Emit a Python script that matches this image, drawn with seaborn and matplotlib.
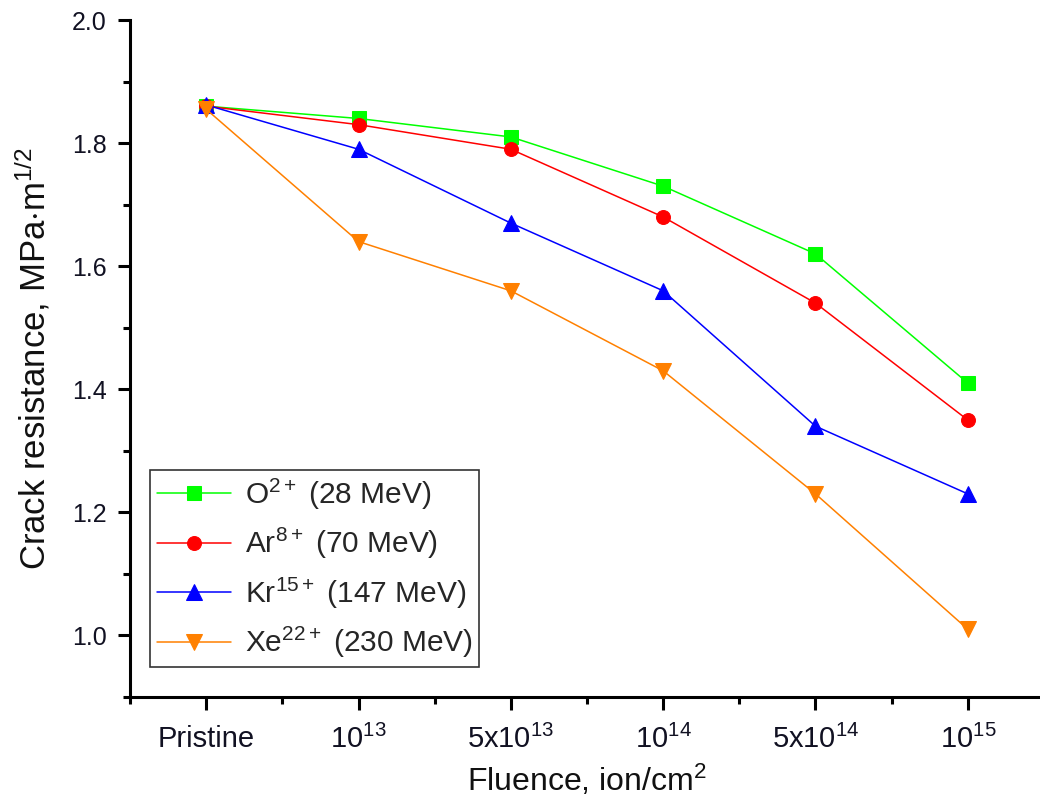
import numpy as np
import pandas as pd
import matplotlib
matplotlib.use("Agg")
import matplotlib.pyplot as plt
import seaborn as sns
from matplotlib.ticker import FixedLocator, FormatStrFormatter

categories = ["Pristine", r"$10^{13}$", r"5x$10^{13}$", r"$10^{14}$", r"5x$10^{14}$", r"$10^{15}$"]
o_vals = [1.86, 1.84, 1.81, 1.73, 1.62, 1.41]
ar_vals = [1.86, 1.83, 1.79, 1.68, 1.54, 1.35]
kr_vals = [1.862, 1.79, 1.67, 1.56, 1.34, 1.23]
xe_vals = [1.855, 1.64, 1.56, 1.43, 1.23, 1.01]
series_labels = [r"O$^{2+}$ (28 MeV)", r"Ar$^{8+}$ (70 MeV)", r"Kr$^{15+}$ (147 MeV)", r"Xe$^{22+}$ (230 MeV)"]

sns.set_style("ticks")
plt.rcParams['font.family'] = ['Liberation Sans', 'DejaVu Sans']
plt.rcParams['mathtext.fontset'] = 'custom'
plt.rcParams['mathtext.rm'] = 'Liberation Sans'
plt.rcParams['mathtext.it'] = 'Liberation Sans'

rows = []
for lab, vals in zip(series_labels, [o_vals, ar_vals, kr_vals, xe_vals]):
    for i, v in enumerate(vals):
        rows.append({"x": i, "y": v, "series": lab})
df = pd.DataFrame(rows)

fig = plt.figure(figsize=(10.4, 8.05), dpi=100)
ax = fig.add_axes([130/1040, 1 - 697/805, (1044-130)/1040, (697-20)/805])

colors = ["#00FF00", "#FF0000", "#0000FF", "#FF8000"]
markers = ["s", "o", "^", "v"]
msizes = [10, 10, 11, 11]
for lab, c, m, ms in zip(series_labels, colors, markers, msizes):
    sub = df[df.series == lab]
    sns.lineplot(data=sub, x="x", y="y", ax=ax, color=c, marker=m, markersize=ms,
                 markeredgecolor=c, linewidth=1.1, label=lab)

ax.set_xlim(-0.5, 5.5)
ax.set_ylim(0.9, 2.0)
ax.xaxis.set_major_locator(FixedLocator(range(len(categories))))
ax.set_xticklabels(categories)
ax.xaxis.set_minor_locator(FixedLocator([-0.5, 0.5, 1.5, 2.5, 3.5, 4.5]))
ax.yaxis.set_major_locator(FixedLocator([1.0, 1.2, 1.4, 1.6, 1.8, 2.0]))
ax.yaxis.set_minor_locator(FixedLocator([0.9, 1.1, 1.3, 1.5, 1.7, 1.9]))
ax.yaxis.set_major_formatter(FormatStrFormatter("%.1f"))

for s in ["top", "right"]:
    ax.spines[s].set_visible(False)
for s in ["left", "bottom"]:
    ax.spines[s].set_linewidth(2.2)
    ax.spines[s].set_color("black")
ax.tick_params(which="major", length=9, width=2.2, colors="black")
ax.tick_params(which="minor", length=5, width=2.2, colors="black")
ax.tick_params(axis="x", which="major", labelsize=21, pad=11)
ax.tick_params(axis="y", which="major", labelsize=18, pad=8)
for t in ax.get_xticklabels() + ax.get_yticklabels():
    t.set_color("#111122")

ax.set_xlabel(r"Fluence, ion/cm$^{2}$", fontsize=23, labelpad=6, color="#111111")
ax.set_ylabel(r"Crack resistance, MPa$\cdot$m$^{1/2}$", fontsize=25, labelpad=14, color="#111111")

leg = ax.legend(loc="lower left", bbox_to_anchor=((150-130)/914, (697-667)/677),
                fontsize=21.5, frameon=True, fancybox=False, edgecolor="black",
                handlelength=2.5, borderpad=0.22, labelspacing=0.48, handletextpad=0.45,
                borderaxespad=0)
leg.get_frame().set_linewidth(1.2)

fig.savefig("out.png", dpi=100)
